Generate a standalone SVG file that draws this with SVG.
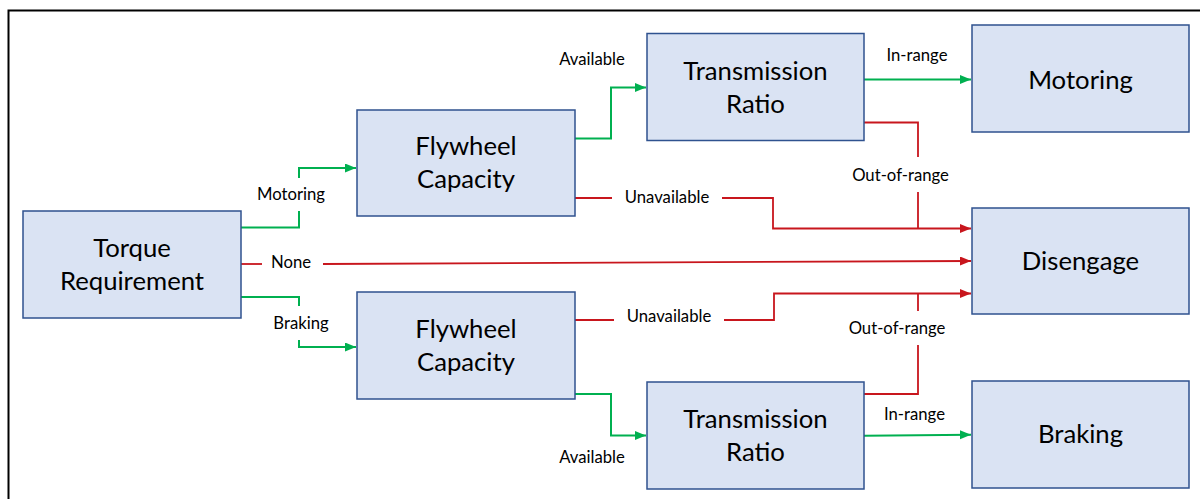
<svg xmlns="http://www.w3.org/2000/svg" width="1200" height="499" viewBox="0 0 1200 499">
<style>
.box{fill:#DAE3F3;stroke:#2F528F;stroke-width:1.5}
.t{font-family:Lato,"Open Sans",sans-serif;font-size:25.7px;fill:#000;text-anchor:middle}
.l{font-family:Lato,"Open Sans",sans-serif;font-size:16.7px;fill:#000;text-anchor:middle}
.g{fill:none;stroke:#00B050;stroke-width:2}
.r{fill:none;stroke:#C8161D;stroke-width:1.8}
</style>
<defs>
<marker id="ag" markerUnits="userSpaceOnUse" markerWidth="12" markerHeight="10" refX="11" refY="4.5" orient="auto"><path d="M0,0 L11,4.5 L0,9 z" fill="#00B050"/></marker>
<marker id="ar" markerUnits="userSpaceOnUse" markerWidth="12" markerHeight="10" refX="11" refY="4.5" orient="auto"><path d="M0,0 L11,4.5 L0,9 z" fill="#C8161D"/></marker>
</defs>
<rect width="1200" height="499" fill="#fff"/>
<rect x="8.5" y="10.5" width="1400" height="700" fill="none" stroke="#000" stroke-width="2"/>
<g id="connectors">
<path class="g" d="M241,227.5 H299 V211" />
<path class="g" d="M299,178 V168 H356" marker-end="url(#ag)"/>
<path class="r" d="M241,264 H262"/>
<path class="r" d="M323,264 L971,261" marker-end="url(#ar)"/>
<path class="g" d="M241,297 H299 V306"/>
<path class="g" d="M299,340 V347 H356" marker-end="url(#ag)"/>
<path class="g" d="M575,138.5 H611 V87.5 H646" marker-end="url(#ag)"/>
<path class="r" d="M575,198 H612"/>
<path class="r" d="M722,198 H773 V228.5 H971" marker-end="url(#ar)"/>
<path class="g" d="M864,79.5 H971" marker-end="url(#ag)"/>
<path class="r" d="M864,122.5 H918 V157"/>
<path class="r" d="M918,192 V228.5"/>
<path class="r" d="M575,320 H614"/>
<path class="r" d="M724,320 H774 V293.5 H971" marker-end="url(#ar)"/>
<path class="r" d="M864,394 H918 V345"/>
<path class="r" d="M918,311 V293.5"/>
<path class="g" d="M575,394 H611 V435.5 H646" marker-end="url(#ag)"/>
<path class="g" d="M864,435.7 L971,434.7" marker-end="url(#ag)"/>
<text class="l" x="291" y="200">Motoring</text>
<text class="l" x="291" y="267.5">None</text>
<text class="l" x="301" y="328.5">Braking</text>
<text class="l" x="592" y="65">Available</text>
<text class="l" x="667" y="202.5">Unavailable</text>
<text class="l" x="917" y="60.5">In-range</text>
<text class="l" x="900.5" y="180.5">Out-of-range</text>
<text class="l" x="669" y="321.5">Unavailable</text>
<text class="l" x="897" y="333.5">Out-of-range</text>
<text class="l" x="914.5" y="420">In-range</text>
<text class="l" x="592" y="462.5">Available</text>
</g>
<g id="torque"><rect class="box" x="23" y="211" width="218" height="107"/><text class="t" x="132" y="257">Torque</text><text class="t" x="132" y="290">Requirement</text></g>
<g id="flywheel-top"><rect class="box" x="357" y="110" width="218" height="106"/><text class="t" x="466" y="155">Flywheel</text><text class="t" x="466" y="188">Capacity</text></g>
<g id="flywheel-bottom"><rect class="box" x="357" y="292" width="218" height="107"/><text class="t" x="466" y="337.5">Flywheel</text><text class="t" x="466" y="370.5">Capacity</text></g>
<g id="transmission-top"><rect class="box" x="647" y="33.5" width="217" height="107"/><text class="t" x="755.5" y="79.5">Transmission</text><text class="t" x="755.5" y="112.5">Ratio</text></g>
<g id="transmission-bottom"><rect class="box" x="647" y="382" width="217" height="107"/><text class="t" x="755.5" y="428">Transmission</text><text class="t" x="755.5" y="461">Ratio</text></g>
<g id="motoring"><rect class="box" x="972" y="25" width="217" height="107"/><text class="t" x="1080.5" y="89">Motoring</text></g>
<g id="disengage"><rect class="box" x="972" y="208" width="217" height="106"/><text class="t" x="1080.5" y="270">Disengage</text></g>
<g id="braking"><rect class="box" x="972" y="381" width="217" height="107"/><text class="t" x="1080.5" y="443">Braking</text></g>
</svg>
